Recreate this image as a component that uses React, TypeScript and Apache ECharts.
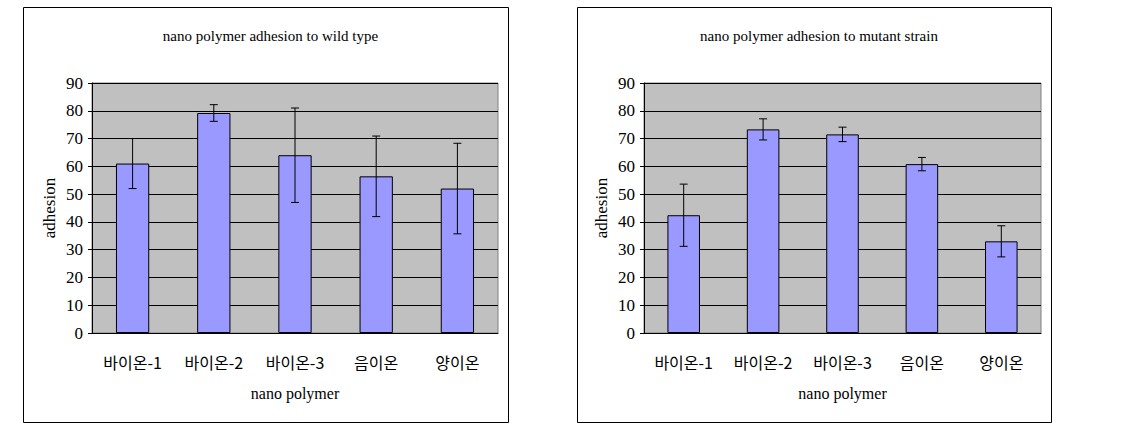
import React, { useEffect, useRef } from "react";
import * as echarts from "echarts";

const categories = ["바이온-1", "바이온-2", "바이온-3", "음이온", "양이온"];
const wildMeans = [61.0, 79.2, 64.0, 56.4, 52.0];
const wildErrors = [9.0, 3.0, 17.0, 14.5, 16.3];
const mutantMeans = [42.4, 73.3, 71.5, 60.8, 33.0];
const mutantErrors = [11.2, 3.8, 2.6, 2.4, 5.6];
const yTicks = { min: 0, max: 90, interval: 10 };
const titles = ["nano polymer adhesion to wild type", "nano polymer adhesion to mutant strain"];
const xName = "nano polymer";
const yName = "adhesion";

const serif = "Liberation Serif";
const kr = "Noto Sans CJK KR";

function errData(means: number[], errs: number[]) {
  return means.map((m, i) => [i, m - errs[i], m + errs[i]]);
}

const renderErr = (params: any, api: any) => {
  const x = api.value(0);
  const lo = api.coord([x, api.value(1)]);
  const hi = api.coord([x, api.value(2)]);
  const hw = 4;
  const style = { stroke: "#000", lineWidth: 1 };
  return {
    type: "group",
    children: [
      { type: "line", shape: { x1: hi[0], y1: hi[1], x2: lo[0], y2: lo[1] }, style },
      { type: "line", shape: { x1: hi[0] - hw, y1: hi[1], x2: hi[0] + hw, y2: hi[1] }, style },
      { type: "line", shape: { x1: lo[0] - hw, y1: lo[1], x2: lo[0] + hw, y2: lo[1] }, style },
    ],
  };
};

export default function App() {
  const ref = useRef<HTMLDivElement>(null);
  useEffect(() => {
    if (!ref.current) return;
    const chart = echarts.init(ref.current, undefined, { renderer: "svg" });
    const grids = [
      { left: 92, top: 83, width: 406, height: 250 },
      { left: 644, top: 83, width: 397, height: 250 },
    ];
    const panels = [
      { x: 23, y: 7, w: 485, h: 415 },
      { x: 577, y: 7, w: 474, h: 415 },
    ];
    const option: any = {
      animation: false,
      backgroundColor: "#fff",
      title: titles.map((t, i) => ({
        text: t,
        left: panels[i].x + panels[i].w / 2,
        textAlign: "center",
        top: 23,
        textStyle: { fontFamily: serif, fontSize: 15, fontWeight: "normal", color: "#000" },
      })),
      grid: grids.map((g) => ({
        ...g,
        show: true,
        backgroundColor: "#C0C0C0",
        borderColor: "#808080",
        borderWidth: 1,
      })),
      xAxis: grids.map((_, i) => ({
        type: "category",
        gridIndex: i,
        data: categories,
        name: xName,
        nameLocation: "middle",
        nameGap: 60,
        nameTextStyle: { fontFamily: serif, fontSize: 16, color: "#000", verticalAlign: "middle" },
        axisLine: { lineStyle: { color: "#000", width: 1 } },
        axisTick: { inside: true, length: 5, lineStyle: { color: "#000" } },
        axisLabel: { fontFamily: kr, fontSize: 16, color: "#000", margin: 21 },
        splitLine: { show: false },
      })),
      yAxis: grids.map((_, i) => ({
        type: "value",
        gridIndex: i,
        min: yTicks.min,
        max: yTicks.max,
        interval: yTicks.interval,
        name: yName,
        nameLocation: "middle",
        nameRotate: 90,
        nameGap: 43,
        nameTextStyle: { fontFamily: serif, fontSize: 17, color: "#000", verticalAlign: "middle" },
        axisLine: { show: true, lineStyle: { color: "#000", width: 1 } },
        axisTick: { show: true, length: 4, lineStyle: { color: "#000" } },
        axisLabel: { fontFamily: serif, fontSize: 17, color: "#000", margin: 9 },
        splitLine: { show: true, lineStyle: { color: "#000", width: 1 } },
      })),
      series: [
        {
          type: "bar",
          xAxisIndex: 0,
          yAxisIndex: 0,
          data: wildMeans,
          barWidth: "41%",
          itemStyle: { color: "#9999FF", borderColor: "#000", borderWidth: 1 },
        },
        {
          type: "custom",
          xAxisIndex: 0,
          yAxisIndex: 0,
          data: errData(wildMeans, wildErrors),
          encode: { x: 0, y: [1, 2] },
          renderItem: renderErr,
          z: 5,
        },
        {
          type: "bar",
          xAxisIndex: 1,
          yAxisIndex: 1,
          data: mutantMeans,
          barWidth: "41%",
          itemStyle: { color: "#9999FF", borderColor: "#000", borderWidth: 1 },
        },
        {
          type: "custom",
          xAxisIndex: 1,
          yAxisIndex: 1,
          data: errData(mutantMeans, mutantErrors),
          encode: { x: 0, y: [1, 2] },
          renderItem: renderErr,
          z: 5,
        },
      ],
      graphic: panels.map((p) => ({
        type: "rect",
        shape: { x: p.x + 0.5, y: p.y + 0.5, width: p.w, height: p.h },
        style: { fill: "none", stroke: "#000", lineWidth: 1 },
        silent: true,
      })),
    };
    chart.setOption(option);
    return () => chart.dispose();
  }, []);
  return (
    <div
      ref={ref}
      style={{ position: "fixed", left: 0, top: 0, width: 1133, height: 427 }}
    />
  );
}
